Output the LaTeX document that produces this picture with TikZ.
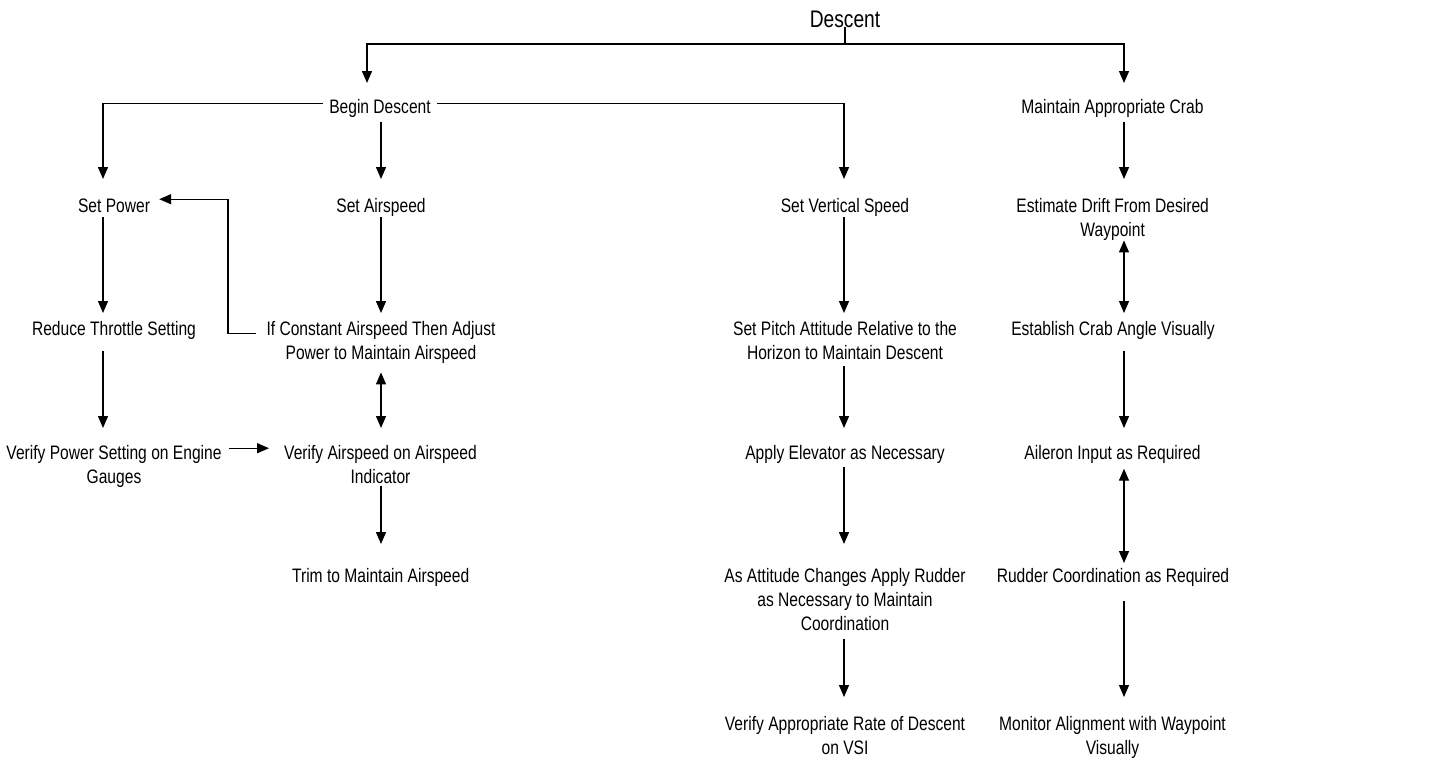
\documentclass[tikz,border=0pt]{standalone}
\usepackage{fontspec}
\setmainfont{Liberation Sans}[FakeStretch=0.8]
\usetikzlibrary{arrows.meta,calc}
\begin{document}
\begin{tikzpicture}[x=1pt,y=-1pt,
  lbl/.style={anchor=north, inner sep=0pt, align=center, font=\fontsize{19.5}{24.3}\selectfont},
  ttl/.style={anchor=base, inner sep=0pt, font=\fontsize{24}{29}\selectfont},
  arr/.style={-{Triangle[length=12pt,width=10pt]}, line width=1.4pt},
  darr/.style={{Triangle[length=12pt,width=10pt]}-{Triangle[length=12pt,width=10pt]}, line width=1.4pt},
  ln/.style={line width=1.4pt}]
\useasboundingbox (0,0) rectangle (1437,761);
% nodes
\node[ttl] (desc) at (845,27) {Descent};
\node[lbl, inner xsep=6pt] (bd) at (380,96) {\strut Begin Descent};
\node[lbl] (mac) at (1112.5,96) {\strut Maintain Appropriate Crab};
\node[lbl] (sp) at (114,195) {\strut Set Power};
\node[lbl] (sa) at (381,195) {\strut Set Airspeed};
\node[lbl] (svs) at (845,195) {\strut Set Vertical Speed};
\node[lbl] (ed) at (1112.7,195) {\strut Estimate Drift From Desired\\\strut Waypoint};
\node[lbl] (rt) at (114,318) {\strut Reduce Throttle Setting};
\node[lbl] (ic) at (381,318) {\strut If Constant Airspeed Then Adjust\\\strut Power to Maintain Airspeed};
\node[lbl] (spa) at (845,318) {\strut Set Pitch Attitude Relative to the\\\strut Horizon to Maintain Descent};
\node[lbl] (ec) at (1113,318) {\strut Establish Crab Angle Visually};
\node[lbl] (vp) at (114,442) {\strut Verify Power Setting on Engine\\\strut Gauges};
\node[lbl] (va) at (380.5,442) {\strut Verify Airspeed on Airspeed\\\strut Indicator};
\node[lbl] (ae) at (845,442) {\strut Apply Elevator as Necessary};
\node[lbl] (ai) at (1112.5,442) {\strut Aileron Input as Required};
\node[lbl] (tr) at (380.7,565) {\strut Trim to Maintain Airspeed};
\node[lbl] (aa) at (845,565) {\strut As Attitude Changes Apply Rudder\\\strut as Necessary to Maintain\\\strut Coordination};
\node[lbl] (rc) at (1113,565) {\strut Rudder Coordination as Required};
\node[lbl] (vr) at (845,713) {\strut Verify Appropriate Rate of Descent\\\strut on VSI};
\node[lbl] (ma) at (1112.5,713) {\strut Monitor Alignment with Waypoint\\\strut Visually};
% column coordinates
\coordinate (cA) at (103,0);
\coordinate (cB) at (381,0);
\coordinate (cC) at (844,0);
\coordinate (cM) at (1124,0);
\coordinate (cBD) at (367,0);
\coordinate (cF) at (228,0);
\coordinate (j0) at (845,44);
% connectors
\draw[ln] (desc.base) -- (j0);
\draw[arr, shorten >=13pt] (j0) -| (bd.north -| cBD);
\draw[arr, shorten >=13pt] (j0) -| (mac.north -| cM);
\draw[arr, shorten >=16pt] ([yshift=5pt]bd.west) -| (sp.north -| cA);
\draw[arr, shorten >=16pt] ([yshift=5pt]bd.east) -| (svs.north -| cC);
\draw[arr, shorten <=1pt, shorten >=16pt] (bd.south -| cB) -- (sa.north -| cB);
\draw[arr, shorten <=1pt, shorten >=16pt] (mac.south -| cM) -- (ed.north -| cM);
\draw[arr, shorten <=-2.3pt, shorten >=5pt] (sp.south -| cA) -- (rt.north -| cA);
\draw[arr, shorten <=-2.3pt, shorten >=5pt] (sa.south -| cB) -- (ic.north -| cB);
\draw[arr, shorten <=-2.3pt, shorten >=5pt] (svs.south -| cC) -- (spa.north -| cC);
\draw[darr, shorten <=-3.6pt, shorten >=5pt] (ed.south -| cM) -- (ec.north -| cM);
\coordinate (spin) at ($(sp.east)+(9,-8.15)$);
\draw[arr] ($(ic.west)+(-10,-9.3)$) -| (spin -| cF) -- (spin);
\draw[arr, shorten <=8.7pt, shorten >=14pt] (rt.south -| cA) -- (vp.north -| cA);
\draw[darr, shorten <=5.4pt, shorten >=14pt] (ic.south -| cB) -- (va.north -| cB);
\draw[arr] ($(vp.east)+(7,-18.3)$) -- ($(va.west)+(-15,-18.3)$);
\draw[arr, shorten <=-4.6pt, shorten >=21pt] (va.south -| cB) -- (tr.north -| cB);
\draw[arr, shorten <=-0.6pt, shorten >=14pt] (spa.south -| cC) -- (ae.north -| cC);
\draw[arr, shorten <=0.7pt, shorten >=21pt] (ae.south -| cC) -- (aa.north -| cC);
\draw[arr, shorten <=1.1pt, shorten >=16pt] (aa.south -| cC) -- (vr.north -| cC);
\draw[arr, shorten <=8.7pt, shorten >=14pt] (ec.south -| cM) -- (ai.north -| cM);
\draw[darr, shorten <=2pt, shorten >=2pt] (ai.south -| cM) -- (rc.north -| cM);
\draw[arr, shorten <=11.7pt, shorten >=16pt] (rc.south -| cM) -- (ma.north -| cM);
\end{tikzpicture}
\end{document}
